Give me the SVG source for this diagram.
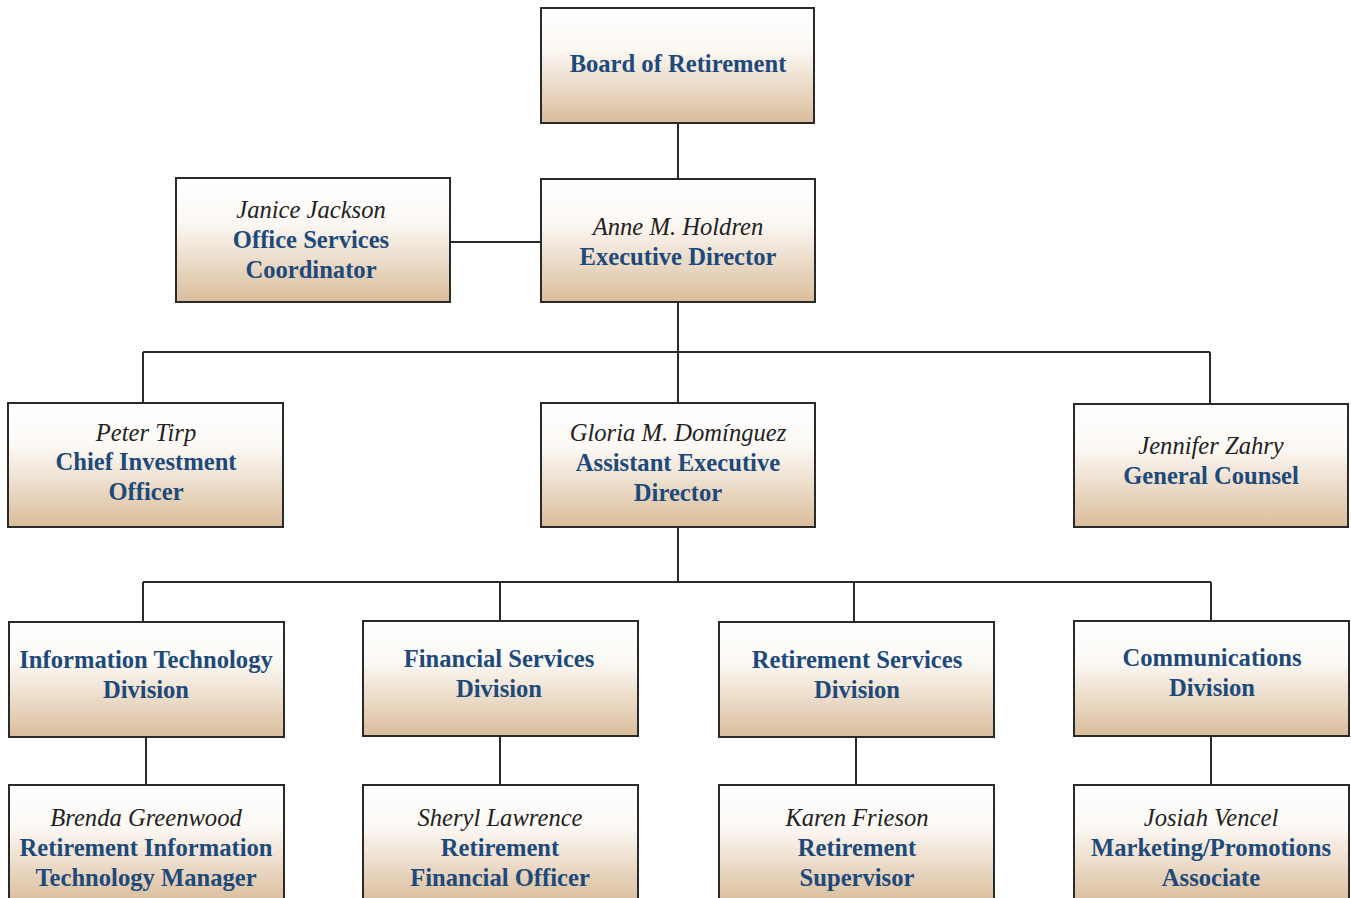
<svg xmlns="http://www.w3.org/2000/svg" width="1351" height="898" viewBox="0 0 1351 898">
<defs>
<linearGradient id="g" x1="0" y1="0" x2="0" y2="1">
<stop offset="0" stop-color="#ffffff"/>
<stop offset="0.35" stop-color="#fcf9f5"/>
<stop offset="1" stop-color="#dabd9b"/>
</linearGradient>
<style>
.box{fill:url(#g);stroke:#2a2a2a;stroke-width:2}
.t{font-family:"Liberation Serif","Times New Roman",serif;font-size:24.6px;text-anchor:middle}
.n{font-style:italic;fill:#222222}
.b{font-weight:bold;fill:#1d4a7b}
.c{stroke:#2a2a2a;stroke-width:2;fill:none}
</style>
</defs>
<rect width="1351" height="898" fill="#ffffff"/>
<g id="connectors" class="c">
<path d="M678 123V179"/>
<path d="M450 242H541"/>
<path d="M678 302V352M143 352H1210M143 352V403M678 352V403M1210 352V404"/>
<path d="M678 527V582M143 582H1211M143 582V622M500 582V621M854 582V622M1211 582V621"/>
<path d="M146 737V785M500 736V785M856 737V785M1211 736V785"/>
</g>
<g id="board"><rect class="box" x="541" y="8" width="273" height="115"/>
<text class="t b" x="678" y="72">Board of Retirement</text></g>
<g id="janice"><rect class="box" x="176" y="178" width="274" height="124"/>
<text class="t n" x="311" y="218">Janice Jackson</text>
<text class="t b" x="311" y="248">Office Services</text>
<text class="t b" x="311" y="278">Coordinator</text></g>
<g id="anne"><rect class="box" x="541" y="179" width="274" height="123"/>
<text class="t n" x="678" y="235">Anne M. Holdren</text>
<text class="t b" x="678" y="265">Executive Director</text></g>
<g id="peter"><rect class="box" x="8" y="403" width="275" height="124"/>
<text class="t n" x="146" y="441">Peter Tirp</text>
<text class="t b" x="146" y="470">Chief Investment</text>
<text class="t b" x="146" y="500">Officer</text></g>
<g id="gloria"><rect class="box" x="541" y="403" width="274" height="124"/>
<text class="t n" x="678" y="441">Gloria M. Domínguez</text>
<text class="t b" x="678" y="471">Assistant Executive</text>
<text class="t b" x="678" y="501">Director</text></g>
<g id="jennifer"><rect class="box" x="1074" y="404" width="274" height="123"/>
<text class="t n" x="1211" y="454">Jennifer Zahry</text>
<text class="t b" x="1211" y="484">General Counsel</text></g>
<g id="it"><rect class="box" x="9" y="622" width="275" height="115"/>
<text class="t b" x="146" y="668">Information Technology</text>
<text class="t b" x="146" y="698">Division</text></g>
<g id="financial"><rect class="box" x="363" y="621" width="275" height="115"/>
<text class="t b" x="499" y="667">Financial Services</text>
<text class="t b" x="499" y="697">Division</text></g>
<g id="retirement"><rect class="box" x="719" y="622" width="275" height="115"/>
<text class="t b" x="857" y="668">Retirement Services</text>
<text class="t b" x="857" y="698">Division</text></g>
<g id="communications"><rect class="box" x="1074" y="621" width="275" height="115"/>
<text class="t b" x="1212" y="666">Communications</text>
<text class="t b" x="1212" y="696">Division</text></g>
<g id="brenda"><rect class="box" x="9" y="785" width="275" height="118"/>
<text class="t n" x="146" y="826">Brenda Greenwood</text>
<text class="t b" x="146" y="856">Retirement Information</text>
<text class="t b" x="146" y="886">Technology Manager</text></g>
<g id="sheryl"><rect class="box" x="363" y="785" width="275" height="118"/>
<text class="t n" x="500" y="826">Sheryl Lawrence</text>
<text class="t b" x="500" y="856">Retirement</text>
<text class="t b" x="500" y="886">Financial Officer</text></g>
<g id="karen"><rect class="box" x="719" y="785" width="275" height="118"/>
<text class="t n" x="857" y="826">Karen Frieson</text>
<text class="t b" x="857" y="856">Retirement</text>
<text class="t b" x="857" y="886">Supervisor</text></g>
<g id="josiah"><rect class="box" x="1074" y="785" width="275" height="118"/>
<text class="t n" x="1211" y="826">Josiah Vencel</text>
<text class="t b" x="1211" y="856">Marketing/Promotions</text>
<text class="t b" x="1211" y="886">Associate</text></g>
</svg>
